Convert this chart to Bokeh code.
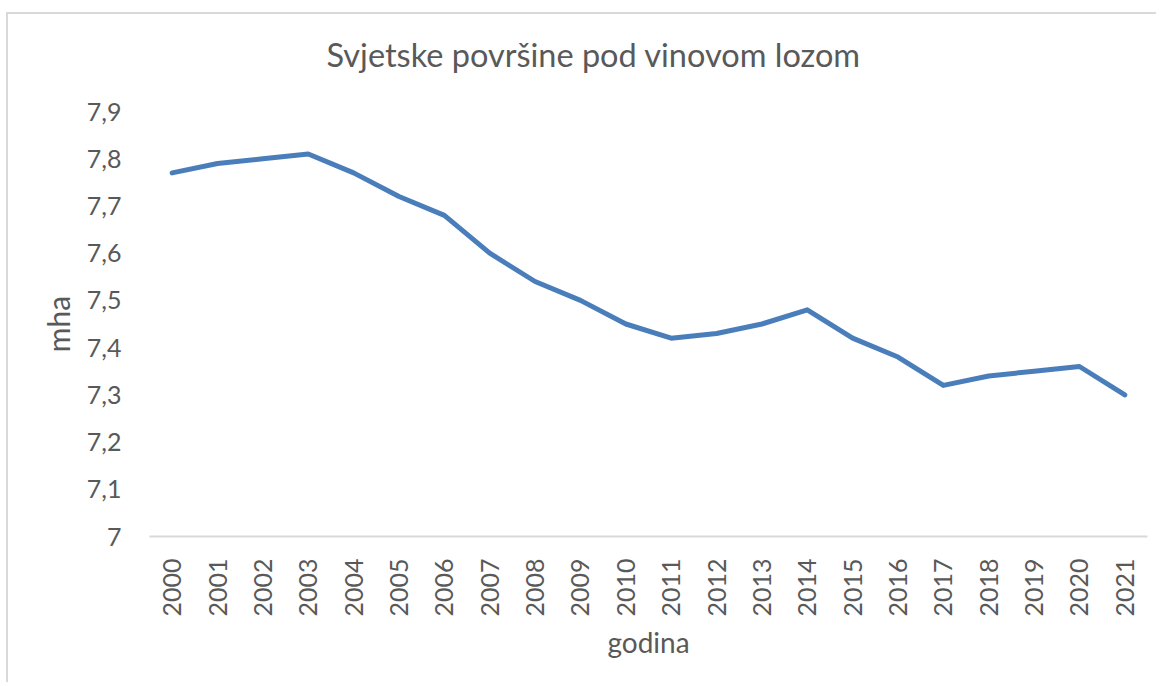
from bokeh.plotting import figure
from bokeh.models import FactorRange, Range1d, FixedTicker
from bokeh.embed import file_html
from bokeh.resources import INLINE
import math

years = [str(y) for y in range(2000, 2022)]
values = [7.77, 7.79, 7.80, 7.81, 7.77, 7.72, 7.68, 7.60, 7.54, 7.50, 7.45,
          7.42, 7.43, 7.45, 7.48, 7.42, 7.38, 7.32, 7.34, 7.35, 7.36, 7.30]
y_ticks = [7.0, 7.1, 7.2, 7.3, 7.4, 7.5, 7.6, 7.7, 7.8, 7.9]
y_tick_labels = ["7", "7,1", "7,2", "7,3", "7,4", "7,5", "7,6", "7,7", "7,8", "7,9"]

title_text = "Svjetske površine pod vinovom lozom"
x_label = "godina"
y_label = "mha"

FONT = "Lato"
TXT = "#595959"

p = figure(width=1150, height=670, output_backend="svg", toolbar_location=None,
           x_range=FactorRange(*years, range_padding=0), y_range=Range1d(7.0, 7.9),
           min_border_left=141, min_border_right=11, min_border_top=97, min_border_bottom=148)
p.styles = {"border-top": "2px solid #D9D9D9", "border-left": "2px solid #D9D9D9",
            "margin-top": "12px", "margin-left": "6px"}

p.line(x=years, y=values, line_color="#4A7EBB", line_width=5,
       line_cap="round", line_join="round")

p.title.text = title_text
p.title.align = "left"
p.title.offset = 177
p.title.text_font = FONT
p.title.text_font_size = "32.5px"
p.title.text_font_style = "normal"
p.title.text_color = TXT
p.title.standoff = 10
p.title.padding = dict(left=0, right=0, top=0, bottom=33)

p.xgrid.visible = False
p.ygrid.visible = False
p.outline_line_color = None
p.background_fill_color = "white"
p.border_fill_color = "white"

xa = p.xaxis[0]
xa.axis_line_color = "#D9D9D9"
xa.axis_line_width = 2
xa.major_tick_line_color = None
xa.minor_tick_line_color = None
xa.major_tick_out = 0
xa.major_label_orientation = math.pi / 2
xa.major_label_standoff = 22
xa.major_label_text_font = FONT
xa.major_label_text_font_size = "25px"
xa.major_label_text_color = TXT
xa.axis_label = x_label
xa.axis_label_text_font = FONT
xa.axis_label_text_font_size = "28px"
xa.axis_label_text_font_style = "normal"
xa.axis_label_text_color = TXT
xa.axis_label_standoff = 5

ya = p.yaxis[0]
ya.ticker = FixedTicker(ticks=y_ticks)
ya.major_label_overrides = dict(zip(y_ticks, y_tick_labels))
ya.axis_line_color = None
ya.major_tick_line_color = None
ya.minor_tick_line_color = None
ya.major_tick_out = 0
ya.major_label_standoff = 28
ya.major_label_text_font = FONT
ya.major_label_text_font_size = "25px"
ya.major_label_text_color = TXT
ya.axis_label = y_label
ya.axis_label_text_font = FONT
ya.axis_label_text_font_size = "30px"
ya.axis_label_text_font_style = "normal"
ya.axis_label_text_color = TXT
ya.axis_label_standoff = 8

open("out.html", "w").write(file_html(p, INLINE))
